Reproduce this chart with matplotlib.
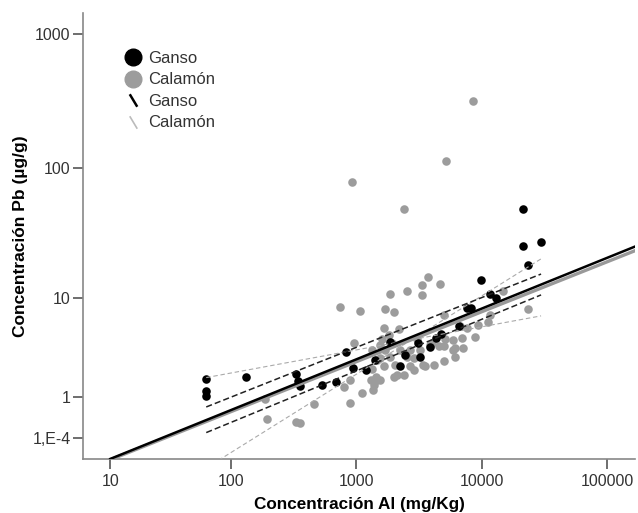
import numpy as np
import matplotlib
matplotlib.use("Agg")
import matplotlib.pyplot as plt
from matplotlib.lines import Line2D
from matplotlib.path import Path
from matplotlib.ticker import NullLocator

# ---- datos ----
ganso_al = [63, 63, 63, 132, 333, 346, 358, 537, 695, 835, 949, 1205, 1422, 1871,
            2249, 3126, 3243, 4350, 4770, 6625, 7680, 8260, 9930, 11700, 13060,
            21440, 21440, 23500, 29800, 2466, 3900]
ganso_pb = [1.75, 1.24, 1.06, 1.84, 1.99, 1.66, 1.44, 1.48, 1.61, 3.36, 2.32, 2.21, 2.8, 4.18,
            2.44, 4.1, 3.0, 4.54, 4.93, 5.8, 8.25, 8.25, 13.9, 10.75, 10.0,
            49, 25.7, 18.3, 27.6, 3.14, 3.78]

calamon_al = [8520, 5195, 925, 2405,
              738, 1079, 1708, 1987, 1871, 2543, 3350, 3738, 4680, 3381,
              955, 1656, 1815, 2178, 1607, 1931, 1337, 1708, 1466, 1656, 1448, 1422,
              1362, 1114, 887, 795, 887, 458, 358, 2115, 2051, 2543, 2700, 3445, 4140,
              4975, 6155, 7170, 5970, 4020, 4540, 5130, 4975, 6750, 7635, 6965, 8890,
              9440, 11350, 11700, 14950, 23600, 3054, 3243, 2700, 2249, 2870, 1871,
              194, 330, 188, 2390, 1987, 1540, 1390, 2870, 1540, 1337, 1310, 3520,
              4975, 3900, 1550, 5970, 6155]
calamon_pb = [318, 113, 78, 49,
              8.4, 7.8, 8.1, 7.6, 10.8, 11.4, 12.7, 14.8, 12.9, 10.6,
              4.1, 5.55, 4.8, 5.4, 4.4, 4.1, 3.5, 3.5, 2.8, 2.4, 1.86, 1.63,
              1.28, 1.15, 0.83, 1.41, 1.7, 0.79, 0.30, 1.94, 2.5, 3.0, 2.4, 2.5, 2.5,
              2.7, 3.0, 3.65, 3.5, 4.06, 3.8, 4.4, 7.2, 5.75, 5.55, 4.5, 4.6,
              5.9, 6.3, 7.2, 11.3, 8.0, 4.4, 3.5, 3.5, 3.5, 2.9, 3.0,
              0.39, 0.31, 0.95, 1.94, 1.86, 1.7, 1.48, 2.2, 3.9, 2.28, 1.7, 2.4,
              3.8, 3.9, 2.92, 4.36, 3.65]

# rectas de ajuste e intervalos (extremos)
fit_x = [10, 167000]
fit_ganso = [-0.43, 25.4]
fit_calamon = [-0.45, 23.6]
ic_x = [63, 29800]
ic_ganso_sup = [0.70, 15.5]
ic_ganso_inf = [0.097, 10.55]
ic_cal_a = [1.81, 7.07]
ic_cal_b = [-0.67, 20.4]

x_ticks = [10, 100, 1000, 10000, 100000]
y_ticks = [0.0001, 1, 10, 100, 1000]
y_tick_labels = ["1,E-4", "1", "10", "100", "1000"]


# escala log "segura" (log10(1+|v|)) como la de SPSS
def fwd(v):
    v = np.asarray(v, dtype=float)
    return np.sign(v) * np.log10(1 + np.abs(v))


def inv(t):
    t = np.asarray(t, dtype=float)
    return np.sign(t) * (10 ** np.abs(t) - 1)


plt.rcParams["font.family"] = ["Liberation Sans", "DejaVu Sans"]

fig = plt.figure(figsize=(6.38, 5.13), dpi=100)
ax = fig.add_axes([83 / 638, 1 - 459 / 513, 552 / 638, 446 / 513])
ax.set_xscale("function", functions=(fwd, inv))
ax.set_yscale("function", functions=(fwd, inv))

ax.scatter(calamon_al, calamon_pb, s=38, color="#9c9c9c", linewidths=0, zorder=2)
ax.scatter(ganso_al, ganso_pb, s=38, color="black", linewidths=0, zorder=3)

ax.plot(ic_x, ic_cal_a, color="#aaaaaa", lw=0.8, ls=(0, (4, 2.5)), zorder=4)
ax.plot(ic_x, ic_cal_b, color="#aaaaaa", lw=0.8, ls=(0, (4, 2.5)), zorder=4)
ax.plot(ic_x, ic_ganso_sup, color="#222222", lw=1.1, ls=(0, (4, 2)), zorder=4)
ax.plot(ic_x, ic_ganso_inf, color="#222222", lw=1.1, ls=(0, (4, 2)), zorder=4)
ax.plot(fit_x, fit_calamon, color="#999999", lw=2.4, zorder=5)
ax.plot(fit_x, fit_ganso, color="black", lw=1.8, zorder=6)

ax.set_xlim(5.67, 167000)
ax.set_ylim(-0.432, 1431)
ax.set_xticks(x_ticks)
ax.set_xticklabels([str(v) for v in x_ticks])
ax.set_yticks(y_ticks)
ax.set_yticklabels(y_tick_labels)
ax.xaxis.set_minor_locator(NullLocator())
ax.yaxis.set_minor_locator(NullLocator())

for s in ["top", "right"]:
    ax.spines[s].set_visible(False)
for s in ["left", "bottom"]:
    ax.spines[s].set_color("#888888")
    ax.spines[s].set_linewidth(1.2)
ax.tick_params(axis="both", length=7.5, width=1.2, color="#555555",
               labelsize=11.5, labelcolor="#333333")
ax.tick_params(axis="y", pad=1.5)
ax.tick_params(axis="x", pad=3)

ax.set_xlabel("Concentración Al (mg/Kg)", fontsize=12.3, fontweight="bold", labelpad=6)
ax.set_ylabel("Concentración Pb (µg/g)", fontsize=12.5, fontweight="bold", labelpad=3)

slash = Path([(-0.3, 0.5), (0.3, -0.5)], [Path.MOVETO, Path.LINETO])
handles = [
    Line2D([], [], ls="", marker="o", ms=12, color="black"),
    Line2D([], [], ls="", marker="o", ms=12, color="#9c9c9c"),
    Line2D([], [], ls="", marker=slash, ms=9, mew=1.8, color="black"),
    Line2D([], [], ls="", marker=slash, ms=9, mew=1.2, color="#bbbbbb"),
]
labels = ["Ganso", "Calamón", "Ganso", "Calamón"]
ax.legend(handles, labels, loc="upper left", bbox_to_anchor=(126 / 638, 1 - 51 / 513),
          bbox_transform=fig.transFigure, frameon=False, fontsize=12,
          handlelength=0.8, handletextpad=0.5, labelspacing=0.39, borderaxespad=0,
          borderpad=0, labelcolor="#333333")

fig.savefig("out.png", dpi=100)
